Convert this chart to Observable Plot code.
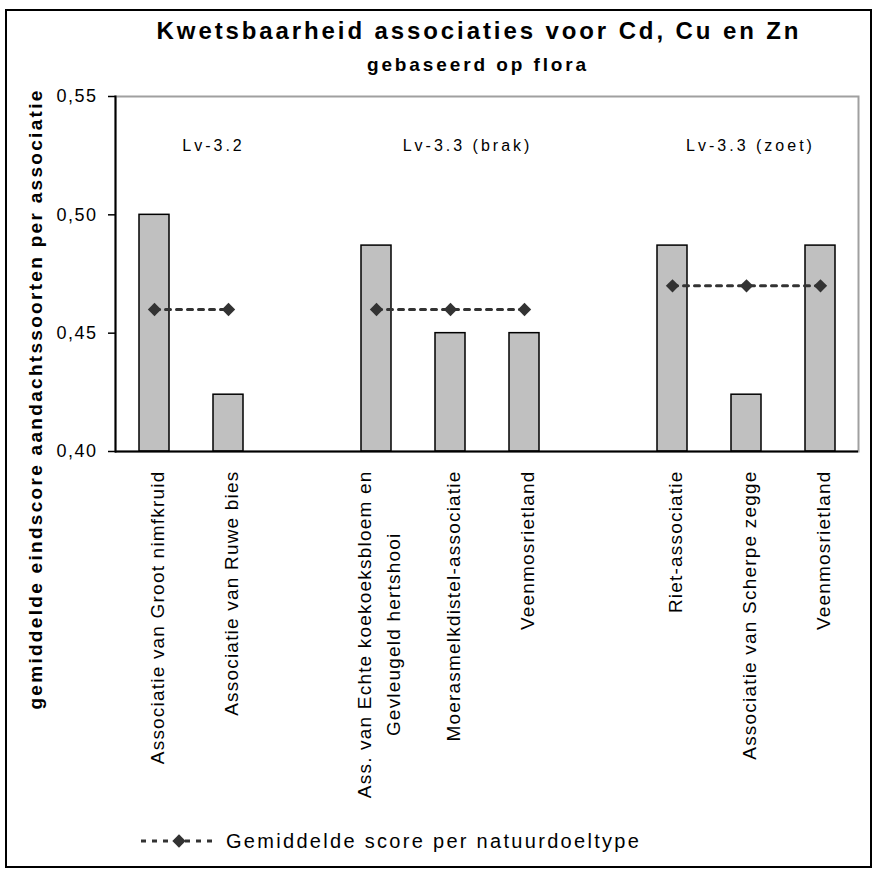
<!DOCTYPE html>
<html>
<head>
<meta charset="utf-8">
<script src="https://cdn.jsdelivr.net/npm/d3@7"></script>
<script src="https://cdn.jsdelivr.net/npm/@observablehq/plot@0.6"></script>
<style>
  body { margin: 0; background: #fff; font-family: Arial, "Liberation Sans", sans-serif; }
  #wrap { position: relative; width: 876px; height: 872px; overflow: hidden; background: #fff; }
  #border { position: absolute; left: 5px; top: 9px; width: 867px; height: 859px; border: 2px solid #000; box-sizing: border-box; }
  #title { position: absolute; left: 0; width: 958px; top: 17px; text-align: center; font-weight: bold; font-size: 24px; letter-spacing: 2.9px; color: #000; white-space: nowrap; }
  #subtitle { position: absolute; left: 0; width: 956px; top: 54px; text-align: center; font-weight: bold; font-size: 19px; letter-spacing: 2.9px; color: #000; white-space: nowrap; }
  #chart { position: absolute; left: 0; top: 0; }
  #legend { position: absolute; left: 141px; top: 829px; height: 24px; display: flex; align-items: center; white-space: nowrap; }
  #legend span { font-size: 20px; letter-spacing: 2.3px; margin-left: 7px; color: #000; }
  g[aria-label="y-axis tick label"] text { letter-spacing: 1.5px; }
  g[aria-label="x-axis tick label"] text { letter-spacing: 1.2px; }
  g.grouplabel text { letter-spacing: 3px; }
  g.ytitle text { letter-spacing: 2.3px; }
</style>
</head>
<body>
<div id="wrap">
  <div id="border"></div>
  <div id="title">Kwetsbaarheid associaties voor Cd, Cu en Zn</div>
  <div id="subtitle">gebaseerd op flora</div>
  <div id="chart"></div>
  <div id="legend"></div>
</div>
<script>
// ---- data ----
const slotLabels = [
  "Associatie van Groot nimfkruid",
  "Associatie van Ruwe bies",
  "",
  "Ass. van Echte koekoeksbloem en\nGevleugeld hertshooi",
  "Moerasmelkdistel-associatie",
  "Veenmosrietland",
  "",
  "Riet-associatie",
  "Associatie van Scherpe zegge",
  "Veenmosrietland"
];
const barSlots = [0, 1, 3, 4, 5, 7, 8, 9];
const scores = [0.500, 0.424, 0.487, 0.450, 0.450, 0.487, 0.424, 0.487];
const barGroups = ["Lv-3.2", "Lv-3.2", "Lv-3.3 (brak)", "Lv-3.3 (brak)", "Lv-3.3 (brak)", "Lv-3.3 (zoet)", "Lv-3.3 (zoet)", "Lv-3.3 (zoet)"];
const groupNames = ["Lv-3.2", "Lv-3.3 (brak)", "Lv-3.3 (zoet)"];
const groupMeans = [0.46, 0.46, 0.47];
const yDomain = [0.40, 0.55];
const yTicks = [0.40, 0.45, 0.50, 0.55];
const groupLabelLevel = 0.529;
const yTitle = "gemiddelde eindscore aandachtssoorten per associatie";
const legendLabel = "Gemiddelde score per natuurdoeltype";

const data = barSlots.map((s, i) => ({
  slot: s,
  score: scores[i],
  group: barGroups[i],
  mean: groupMeans[groupNames.indexOf(barGroups[i])]
}));

const fmt = d3.formatLocale({decimal: ",", thousands: ".", grouping: [3], currency: ["", ""]}).format(".2f");

// group label anchor: middle bar of each group
const groupAnchor = groupNames.map(g => {
  const s = data.filter(d => d.group === g).map(d => d.slot);
  return s[Math.floor(s.length / 2)];
});
const groupDx = [-15, 17, 4];

const textBase = {fontFamily: "Arial, 'Liberation Sans', sans-serif", fill: "#000"};

const marks = [
  Plot.frame({stroke: "#a0a0a0", strokeWidth: 2}),
  Plot.barY(data, {x: "slot", y1: () => yDomain[0], y2: "score", fill: "#c0c0c0", stroke: "#000", strokeWidth: 1.5}),
  Plot.frame({anchor: "left", stroke: "#000", strokeWidth: 2}),
  Plot.ruleY([yDomain[0]], {stroke: "#000", strokeWidth: 2}),
  Plot.line(data, {x: "slot", y: "mean", z: "group", stroke: "#333", strokeWidth: 3, strokeDasharray: "5,6"}),
  Plot.dot(data, {x: "slot", y: "mean", symbol: "diamond2", r: 6, fill: "#333", stroke: "none"}),
  ...groupNames.map((g, i) => Plot.text([g], {
    x: () => groupAnchor[i], y: () => groupLabelLevel, text: d => d, dx: groupDx[i],
    fontSize: 16, textAnchor: "middle", lineAnchor: "middle", className: "grouplabel", ...textBase
  })),
  Plot.text([yTitle], {
    text: d => d, frameAnchor: "left", rotate: -90, dx: -80, dy: 125,
    fontSize: 19, fontWeight: "bold", textAnchor: "middle", lineAnchor: "middle", className: "ytitle", ...textBase
  }),
  Plot.axisY({ticks: yTicks, tickFormat: fmt, tickSize: 7, tickPadding: 11, fontSize: 18, stroke: "#000", strokeWidth: 1.5, label: null, ...textBase}),
  Plot.axisX({tickSize: 0, tickPadding: 19, tickRotate: -90, tickFormat: i => slotLabels[i], fontSize: 19, lineHeight: 1.5, label: null, ...textBase})
];

const chart = Plot.plot({
  width: 876,
  height: 872,
  marginLeft: 115,
  marginRight: 18,
  marginTop: 96,
  marginBottom: 421,
  style: {background: "transparent", fontFamily: "Arial, 'Liberation Sans', sans-serif", overflow: "visible"},
  x: {type: "band", domain: d3.range(slotLabels.length), paddingInner: 0.596, paddingOuter: 0.298, axis: null},
  y: {domain: yDomain, axis: null},
  marks
});
document.getElementById("chart").appendChild(chart);

// center the second line of multi-line x labels within the label block
chart.querySelectorAll('g[aria-label="x-axis tick label"] text').forEach(t => {
  const spans = t.querySelectorAll("tspan");
  if (spans.length === 2) {
    const l1 = spans[0].getComputedTextLength();
    const l2 = spans[1].getComputedTextLength();
    spans[1].setAttribute("x", -(l1 - l2) / 2);
  }
});

// legend
const leg = document.getElementById("legend");
const sw = d3.create("svg").attr("width", 78).attr("height", 24);
sw.append("line").attr("x1", 0).attr("x2", 76).attr("y1", 12).attr("y2", 12)
  .attr("stroke", "#333").attr("stroke-width", 3).attr("stroke-dasharray", "5,6");
sw.append("path").attr("d", d3.symbol(d3.symbolDiamond2, Math.PI * 6 * 6)()).attr("transform", "translate(38,12)").attr("fill", "#333");
leg.appendChild(sw.node());
const sp = document.createElement("span");
sp.textContent = legendLabel;
leg.appendChild(sp);
</script>
</body>
</html>
